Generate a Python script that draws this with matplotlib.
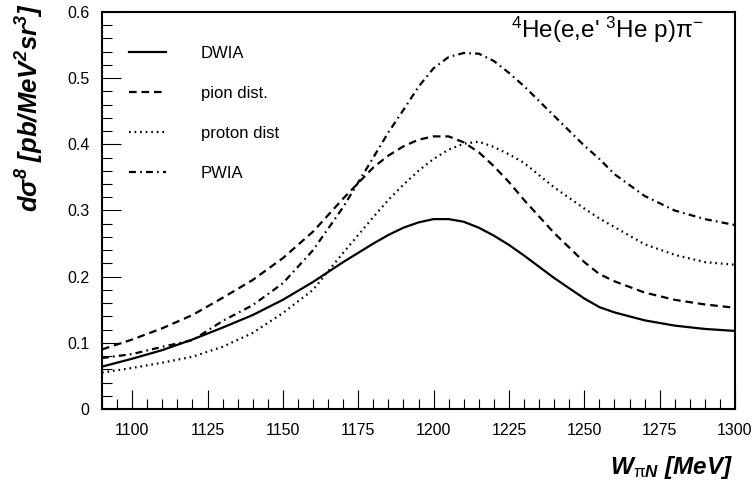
import numpy as np
import matplotlib
matplotlib.use("Agg")
import matplotlib.pyplot as plt
from matplotlib.ticker import MultipleLocator

plt.rcParams['font.family'] = ['Liberation Sans', 'DejaVu Sans']
plt.rcParams['mathtext.fontset'] = 'custom'
plt.rcParams['mathtext.rm'] = 'Liberation Sans'
plt.rcParams['mathtext.it'] = 'Liberation Sans:italic'
plt.rcParams['mathtext.bf'] = 'Liberation Sans:bold'
plt.rcParams['mathtext.bfit'] = 'Liberation Sans:italic:bold'
plt.rcParams['lines.scale_dashes'] = False

# W_piN grid [MeV]
w = [1090, 1100, 1110, 1120, 1130, 1140, 1150, 1160, 1170, 1180, 1185, 1190,
     1195, 1200, 1205, 1210, 1215, 1220, 1225, 1230, 1240, 1250, 1255, 1260,
     1270, 1280, 1290, 1300]

dwia = [0.064, 0.076, 0.089, 0.105, 0.123, 0.142, 0.165, 0.192, 0.222, 0.250,
        0.263, 0.274, 0.282, 0.287, 0.287, 0.283, 0.274, 0.262, 0.248, 0.232,
        0.198, 0.167, 0.154, 0.146, 0.134, 0.126, 0.121, 0.118]
pion = [0.090, 0.105, 0.122, 0.142, 0.168, 0.195, 0.228, 0.268, 0.318, 0.365,
        0.383, 0.397, 0.407, 0.412, 0.412, 0.403, 0.388, 0.367, 0.343, 0.316,
        0.266, 0.222, 0.204, 0.193, 0.176, 0.165, 0.158, 0.153]
proton = [0.055, 0.062, 0.070, 0.079, 0.094, 0.115, 0.145, 0.180, 0.236, 0.290,
          0.316, 0.339, 0.360, 0.378, 0.392, 0.401, 0.404, 0.396, 0.385, 0.372,
          0.335, 0.303, 0.288, 0.275, 0.249, 0.233, 0.222, 0.218]
pwia = [0.077, 0.083, 0.094, 0.104, 0.133, 0.157, 0.190, 0.240, 0.305, 0.380,
        0.418, 0.452, 0.487, 0.515, 0.532, 0.538, 0.537, 0.526, 0.508, 0.488,
        0.443, 0.398, 0.378, 0.355, 0.322, 0.300, 0.287, 0.278]

labels = ["DWIA", "pion dist.", "proton dist", "PWIA"]

fig = plt.figure(figsize=(7.52, 4.87), dpi=100)
ax = fig.add_axes([102/752, 78/487, 633/752, 397/487])

lw = 1.6
ax.plot(w, dwia, color='black', lw=lw, label=labels[0])
ax.plot(w, pion, color='black', lw=lw, dashes=(5.5, 3.5), label=labels[1])
ax.plot(w, proton, color='black', lw=lw, dashes=(1.2, 2.8), label=labels[2])
ax.plot(w, pwia, color='black', lw=lw, dashes=(5.0, 3.0, 1.2, 3.0), label=labels[3])

ax.set_xlim(1090, 1300)
ax.set_ylim(0, 0.6)
ax.xaxis.set_major_locator(MultipleLocator(25))
ax.xaxis.set_minor_locator(MultipleLocator(5))
ax.yaxis.set_major_locator(MultipleLocator(0.1))
ax.yaxis.set_minor_locator(MultipleLocator(0.02))
ax.yaxis.set_major_formatter(lambda v, p: "0" if abs(v) < 1e-9 else f"{v:.1f}")
ax.tick_params(which='both', direction='in', top=False, right=False, width=0.8,
               labelsize=11.5)
ax.tick_params(which='major', length=13.5)
ax.tick_params(which='minor', length=7)
ax.tick_params(axis='x', pad=10)
ax.tick_params(axis='y', pad=9)
for s in ax.spines.values():
    s.set_linewidth(1.5)

leg = ax.legend(loc='upper left', bbox_to_anchor=(0.0427, 0.914), frameon=False,
                borderpad=0, borderaxespad=0, fontsize=12, handlelength=2.2,
                handletextpad=2.1, labelspacing=1.5)

ax.text(0.949, 0.9345, r"$^{4}$He(e,e' $^{3}$He p)π$^{-}$", transform=ax.transAxes,
        ha='right', va='baseline', fontsize=17.5)

fig.text(30/752, 1 - 3/487,
         r"$\mathbfit{d\sigma^{8}}$ [pb/MeV$^{\mathbfit{2}}$sr$^{\mathbfit{3}}$]",
         rotation=90, ha='center', va='top', fontsize=18.5,
         fontweight='bold', style='italic')
fig.text(733/752, 1 - 474/487, r"$\mathbfit{W}_{\mathrm{\pi}\mathbfit{N}}$ [MeV]",
         ha='right', va='baseline', fontsize=17.5, fontweight='bold', style='italic')

fig.savefig("out.png", dpi=100)
